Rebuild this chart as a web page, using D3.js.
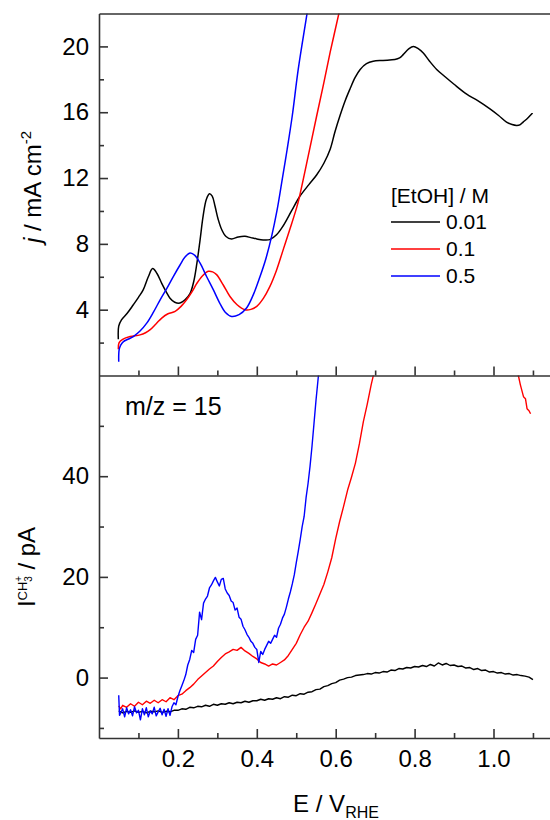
<!DOCTYPE html>
<html>
<head>
<meta charset="utf-8">
<script src="https://cdn.jsdelivr.net/npm/d3@7"></script>
<style>
  body { margin: 0; background: #fff; }
  text { font-family: "Liberation Sans", Arial, sans-serif; fill: #000; }
</style>
</head>
<body>
<div id="chart"></div>
<script>
// CV (top) and MS ion current m/z = 15 (bottom) vs potential

// DATA
const concLabels = ['0.01', '0.1', '0.5'];
const concColors = ['#000000', '#ff0000', '#0000ff'];

const eMajor = [0.2, 0.4, 0.6, 0.8, 1.0];
const eMinor = [0.1, 0.3, 0.5, 0.7, 0.9, 1.1];
const jMajor = [4, 8, 12, 16, 20];
const jMinor = [2, 6, 10, 14, 18];
const iMajor = [0, 20, 40];
const iMinor = [-10, 10, 30, 50];

// current density j / mA cm-2  [E, j]
const cv001 = [[0.049,2.2],[0.050,3.0],[0.057,3.38],[0.072,3.8],[0.087,4.3],[0.100,4.75],[0.112,5.2],[0.125,6.0],[0.136,6.5],[0.147,6.2],[0.159,5.6],[0.170,5.1],[0.180,4.7],[0.192,4.45],[0.205,4.4],[0.218,4.6],[0.231,5.0],[0.240,5.7],[0.248,6.8],[0.256,8.2],[0.264,9.7],[0.272,10.7],[0.280,11.05],[0.287,10.9],[0.294,10.3],[0.302,9.5],[0.311,8.87],[0.322,8.45],[0.336,8.3],[0.353,8.42],[0.370,8.46],[0.385,8.38],[0.400,8.3],[0.416,8.24],[0.433,8.26],[0.450,8.55],[0.467,9.1],[0.488,10.0],[0.508,10.85],[0.532,11.6],[0.552,12.2],[0.570,12.9],[0.586,13.75],[0.598,14.8],[0.611,15.8],[0.624,16.7],[0.636,17.4],[0.649,18.1],[0.662,18.6],[0.678,18.95],[0.695,19.1],[0.720,19.15],[0.750,19.2],[0.762,19.3],[0.771,19.5],[0.785,19.85],[0.797,20.0],[0.810,19.85],[0.822,19.6],[0.838,19.1],[0.856,18.6],[0.875,18.2],[0.900,17.7],[0.932,17.1],[0.960,16.7],[0.991,16.2],[1.013,15.8],[1.033,15.4],[1.047,15.25],[1.059,15.2],[1.068,15.25],[1.075,15.4],[1.087,15.65],[1.099,15.95]];
const cv01 = [[0.049,1.6],[0.051,2.0],[0.060,2.2],[0.079,2.37],[0.104,2.47],[0.118,2.6],[0.129,2.77],[0.145,3.15],[0.159,3.49],[0.175,3.75],[0.193,3.9],[0.208,4.2],[0.222,4.6],[0.236,5.1],[0.248,5.6],[0.262,6.05],[0.277,6.33],[0.288,6.3],[0.298,6.13],[0.315,5.5],[0.332,4.8],[0.350,4.3],[0.370,4.0],[0.385,4.02],[0.400,4.2],[0.417,4.7],[0.433,5.4],[0.450,6.4],[0.467,7.65],[0.484,8.9],[0.501,10.2],[0.508,10.85],[0.530,13.3],[0.552,15.8],[0.570,17.8],[0.586,19.65],[0.609,22.1],[0.620,23.4]];
const cv05 = [[0.050,0.84],[0.051,1.55],[0.055,1.85],[0.062,2.06],[0.075,2.22],[0.087,2.37],[0.104,2.7],[0.121,3.18],[0.138,3.85],[0.155,4.6],[0.172,5.3],[0.188,6.0],[0.205,6.7],[0.218,7.2],[0.231,7.45],[0.243,7.3],[0.256,6.84],[0.273,6.0],[0.290,5.2],[0.306,4.4],[0.320,3.85],[0.336,3.59],[0.355,3.7],[0.374,4.1],[0.391,4.9],[0.408,6.0],[0.423,7.1],[0.438,8.5],[0.451,10.0],[0.463,11.7],[0.477,13.75],[0.490,15.8],[0.505,18.6],[0.528,22.1],[0.540,24.0]];

// ion current I / pA  [E, I]
const ms001 = [[0.05,-6.6],[0.06,-7.0],[0.07,-6.7],[0.08,-6.9],[0.09,-6.6],[0.10,-6.9],[0.11,-6.7],[0.12,-7.0],[0.13,-6.7],[0.14,-6.8],[0.15,-6.6],[0.16,-6.9],[0.17,-6.7],[0.18,-6.8],[0.19,-6.5],[0.20,-6.5],[0.21,-6.2],[0.22,-6.3],[0.23,-5.9],[0.24,-6.0],[0.25,-5.7],[0.26,-5.8],[0.27,-5.5],[0.28,-5.7],[0.29,-5.3],[0.30,-5.5],[0.31,-5.2],[0.32,-5.3],[0.33,-5.0],[0.34,-5.2],[0.35,-4.9],[0.36,-5.0],[0.37,-4.7],[0.38,-4.9],[0.39,-4.6],[0.40,-4.6],[0.41,-4.3],[0.42,-4.5],[0.43,-4.2],[0.44,-4.3],[0.45,-4.0],[0.46,-4.2],[0.47,-3.8],[0.48,-3.9],[0.49,-3.5],[0.50,-3.6],[0.51,-3.2],[0.52,-3.3],[0.53,-2.9],[0.54,-2.8],[0.55,-2.4],[0.56,-2.3],[0.57,-1.8],[0.58,-1.6],[0.59,-1.2],[0.60,-1.0],[0.61,-0.5],[0.62,-0.3],[0.63,0.0],[0.64,0.1],[0.65,0.4],[0.66,0.5],[0.67,0.6],[0.68,0.8],[0.69,0.7],[0.70,1.0],[0.71,0.9],[0.72,1.2],[0.73,1.1],[0.74,1.5],[0.75,1.4],[0.76,1.8],[0.77,1.7],[0.78,2.0],[0.79,1.9],[0.80,2.2],[0.81,2.1],[0.82,2.4],[0.83,2.2],[0.84,2.6],[0.85,2.3],[0.86,2.9],[0.87,2.5],[0.88,2.8],[0.89,2.4],[0.90,2.5],[0.91,2.2],[0.92,2.3],[0.93,1.9],[0.94,2.0],[0.95,1.6],[0.96,1.8],[0.97,1.4],[0.98,1.5],[0.99,1.1],[1.00,1.2],[1.01,0.9],[1.02,1.0],[1.03,0.7],[1.04,0.8],[1.05,0.5],[1.06,0.6],[1.07,0.4],[1.08,0.3],[1.09,0.1],[1.10,-0.4]];
const ms01 = [[0.05,-5.6],[0.055,-6.2],[0.06,-5.5],[0.07,-5.9],[0.08,-5.2],[0.09,-5.7],[0.10,-4.9],[0.11,-5.4],[0.12,-4.7],[0.13,-5.1],[0.14,-4.5],[0.15,-5.0],[0.16,-4.4],[0.17,-4.8],[0.18,-4.0],[0.19,-4.4],[0.20,-3.6],[0.21,-3.3],[0.22,-2.6],[0.23,-2.0],[0.24,-1.3],[0.25,-0.4],[0.26,0.3],[0.27,1.0],[0.28,1.7],[0.29,2.3],[0.30,3.2],[0.31,4.0],[0.32,4.7],[0.33,5.1],[0.34,5.6],[0.35,5.4],[0.36,6.0],[0.37,5.3],[0.38,4.8],[0.39,4.2],[0.40,3.7],[0.41,3.0],[0.42,2.7],[0.43,2.3],[0.44,2.7],[0.45,2.5],[0.46,3.0],[0.47,3.5],[0.48,4.4],[0.49,5.6],[0.50,6.8],[0.51,8.5],[0.52,10.0],[0.53,11.2],[0.54,12.9],[0.55,14.7],[0.56,16.6],[0.57,18.5],[0.58,21.0],[0.59,23.8],[0.60,27.6],[0.61,31.0],[0.62,34.0],[0.63,37.2],[0.64,39.8],[0.65,42.6],[0.66,46.4],[0.67,50.8],[0.68,54.3],[0.69,58.2],[0.70,61.5],[0.75,90],[1.00,90],[1.055,64],[1.063,60],[1.068,58.2],[1.076,55.8],[1.081,55.4],[1.085,53.4],[1.09,53.0],[1.094,52.4]];
const ms05 = [[0.05,-3.5],[0.052,-7.5],[0.06,-6.2],[0.065,-7.8],[0.07,-6.0],[0.075,-7.2],[0.08,-6.4],[0.085,-7.6],[0.09,-5.8],[0.095,-7.0],[0.10,-6.5],[0.105,-8.4],[0.11,-6.2],[0.115,-7.4],[0.12,-6.0],[0.125,-7.8],[0.13,-6.6],[0.135,-7.2],[0.14,-5.9],[0.145,-7.6],[0.15,-6.8],[0.155,-6.1],[0.16,-7.4],[0.165,-6.3],[0.17,-7.7],[0.175,-6.2],[0.18,-7.5],[0.185,-5.8],[0.19,-5.0],[0.195,-5.4],[0.20,-3.8],[0.205,-2.6],[0.21,-1.6],[0.215,-0.6],[0.22,0.6],[0.225,2.5],[0.23,3.6],[0.235,5.4],[0.24,5.0],[0.245,7.6],[0.25,8.4],[0.255,13.0],[0.26,11.5],[0.265,14.8],[0.27,15.6],[0.275,16.2],[0.28,17.8],[0.285,18.4],[0.29,19.2],[0.295,19.9],[0.30,19.0],[0.305,18.2],[0.31,19.5],[0.315,19.7],[0.32,17.6],[0.325,16.8],[0.33,16.3],[0.335,15.2],[0.34,14.9],[0.345,13.4],[0.35,13.8],[0.355,12.0],[0.36,11.6],[0.365,10.2],[0.37,9.5],[0.375,8.6],[0.38,8.0],[0.385,7.2],[0.39,6.8],[0.395,6.0],[0.40,5.6],[0.405,3.0],[0.41,5.2],[0.415,4.6],[0.42,5.6],[0.425,6.4],[0.43,7.2],[0.435,6.8],[0.44,7.6],[0.445,8.4],[0.45,8.0],[0.455,9.8],[0.46,10.6],[0.465,11.8],[0.47,12.6],[0.475,14.0],[0.48,15.6],[0.485,17.0],[0.49,18.6],[0.495,20.4],[0.50,22.8],[0.505,25.0],[0.51,27.4],[0.515,30.0],[0.52,32.0],[0.525,35.8],[0.53,38.6],[0.535,42.0],[0.54,46.0],[0.545,50.5],[0.55,55.0],[0.555,59.0],[0.56,63.0]];

const cvSeries = [cv001, cv01, cv05];
const msSeries = [ms001, ms01, ms05];

// LAYOUT
const width = 550, height = 820;
const plotLeft = 99, plotTop = 13.5, plotMid = 375.5, plotBottom = 738;
const pxPerVolt = 394.5;
const axisColor = '#333';

const svg = d3.select('#chart').append('svg')
  .attr('width', width).attr('height', height);

const x = d3.scaleLinear().domain([0, 1.15]).range([plotLeft, plotLeft + 1.15 * pxPerVolt]);
const yTop = d3.scaleLinear().domain([0, 22]).range([plotMid, plotTop]);
const yBot = d3.scaleLinear().domain([-12, 60]).range([plotBottom, plotMid]);

// clip paths
const defs = svg.append('defs');
defs.append('clipPath').attr('id', 'clipTop').append('rect')
  .attr('x', plotLeft).attr('y', plotTop).attr('width', width - plotLeft).attr('height', plotMid - plotTop);
defs.append('clipPath').attr('id', 'clipBot').append('rect')
  .attr('x', plotLeft).attr('y', plotMid).attr('width', width - plotLeft).attr('height', plotBottom - plotMid);

// CURVES
const lineTop = d3.line().x(d => x(d[0])).y(d => yTop(d[1])).curve(d3.curveCatmullRom.alpha(0.5));
const lineBot = d3.line().x(d => x(d[0])).y(d => yBot(d[1]));

svg.append('g').attr('clip-path', 'url(#clipTop)')
  .selectAll('path').data(cvSeries).join('path')
  .attr('d', lineTop).attr('fill', 'none')
  .attr('stroke', (d, i) => concColors[i]).attr('stroke-width', 1.5);

svg.append('g').attr('clip-path', 'url(#clipBot)')
  .selectAll('path').data(msSeries).join('path')
  .attr('d', lineBot).attr('fill', 'none')
  .attr('stroke', (d, i) => concColors[i]).attr('stroke-width', 1.4)
  .attr('stroke-linejoin', 'round');

// AXES
function styleAxis(g) {
  g.attr('font-size', 24).attr('font-family', '"Liberation Sans", Arial, sans-serif');
  g.selectAll('.domain').attr('stroke', axisColor).attr('stroke-width', 1.6);
  g.selectAll('.tick line').attr('stroke', axisColor).attr('stroke-width', 1.6);
  g.selectAll('.tick text').attr('fill', '#000');
}

// left axes, ticks inward
svg.append('g').attr('transform', `translate(${plotLeft},0)`)
  .call(d3.axisLeft(yTop).tickValues(jMajor).tickSize(-9).tickSizeOuter(0).tickPadding(10))
  .call(styleAxis);
svg.append('g').attr('transform', `translate(${plotLeft},0)`)
  .call(d3.axisLeft(yTop).tickValues(jMinor).tickSize(-5).tickFormat(''))
  .call(styleAxis).call(g => g.select('.domain').remove());

svg.append('g').attr('transform', `translate(${plotLeft},0)`)
  .call(d3.axisLeft(yBot).tickValues(iMajor).tickSize(-9).tickSizeOuter(0).tickPadding(10))
  .call(styleAxis);
svg.append('g').attr('transform', `translate(${plotLeft},0)`)
  .call(d3.axisLeft(yBot).tickValues(iMinor).tickSize(-5).tickFormat(''))
  .call(styleAxis).call(g => g.select('.domain').remove());

// top border
svg.append('g').attr('transform', `translate(0,${plotTop})`)
  .call(d3.axisTop(x).tickValues([]).tickSizeOuter(0))
  .call(styleAxis);

// separator between panels, ticks pointing up
svg.append('g').attr('transform', `translate(0,${plotMid})`)
  .call(d3.axisBottom(x).tickValues(eMajor).tickSize(-9).tickSizeOuter(0).tickFormat(''))
  .call(styleAxis);
svg.append('g').attr('transform', `translate(0,${plotMid})`)
  .call(d3.axisBottom(x).tickValues(eMinor).tickSize(-5).tickFormat(''))
  .call(styleAxis).call(g => g.select('.domain').remove());

// bottom axis with labels
svg.append('g').attr('transform', `translate(0,${plotBottom})`)
  .call(d3.axisBottom(x).tickValues(eMajor).tickSize(-9).tickSizeOuter(0).tickPadding(12).tickFormat(d3.format('.1f')))
  .call(styleAxis);
svg.append('g').attr('transform', `translate(0,${plotBottom})`)
  .call(d3.axisBottom(x).tickValues(eMinor).tickSize(-5).tickFormat(''))
  .call(styleAxis).call(g => g.select('.domain').remove());

// AXIS TITLES
const xt = svg.append('text').attr('x', 336).attr('y', 812)
  .attr('text-anchor', 'middle').attr('font-size', 24);
xt.append('tspan').text('E / V');
xt.append('tspan').attr('font-size', 16).attr('dy', 6).text('RHE');

const yt1 = svg.append('text').attr('transform', 'translate(41,187) rotate(-90)')
  .attr('text-anchor', 'middle').attr('font-size', 24);
yt1.append('tspan').attr('font-style', 'italic').text('j');
yt1.append('tspan').text(' / mA cm');
yt1.append('tspan').attr('font-size', 15).attr('dy', -10).text('-2');

const yt2 = svg.append('text').attr('transform', 'translate(35,567) rotate(-90)')
  .attr('text-anchor', 'middle').attr('font-size', 24);
yt2.append('tspan').text('I');
yt2.append('tspan').attr('font-size', 13).attr('dy', -8).text('CH');
yt2.append('tspan').attr('font-size', 10).attr('dy', -5).text('+');
yt2.append('tspan').attr('font-size', 10).attr('dx', -6).attr('dy', 10).text('3');
yt2.append('tspan').attr('dy', 3).text(' / pA');

// panel label
svg.append('text').attr('x', 125).attr('y', 415).attr('font-size', 25).text('m/z = 15');

// LEGEND
const legend = svg.append('g').attr('transform', 'translate(391,203)');
legend.append('text').attr('font-size', 21).text('[EtOH] / M');
const items = legend.selectAll('g.item').data(concLabels).join('g')
  .attr('class', 'item')
  .attr('transform', (d, i) => `translate(0,${19 + i * 27})`);
items.append('line').attr('x1', 0).attr('x2', 49)
  .attr('stroke', (d, i) => concColors[i]).attr('stroke-width', 1.5);
items.append('text').attr('x', 55).attr('y', 7).attr('font-size', 21).text(d => d);
</script>
</body>
</html>
